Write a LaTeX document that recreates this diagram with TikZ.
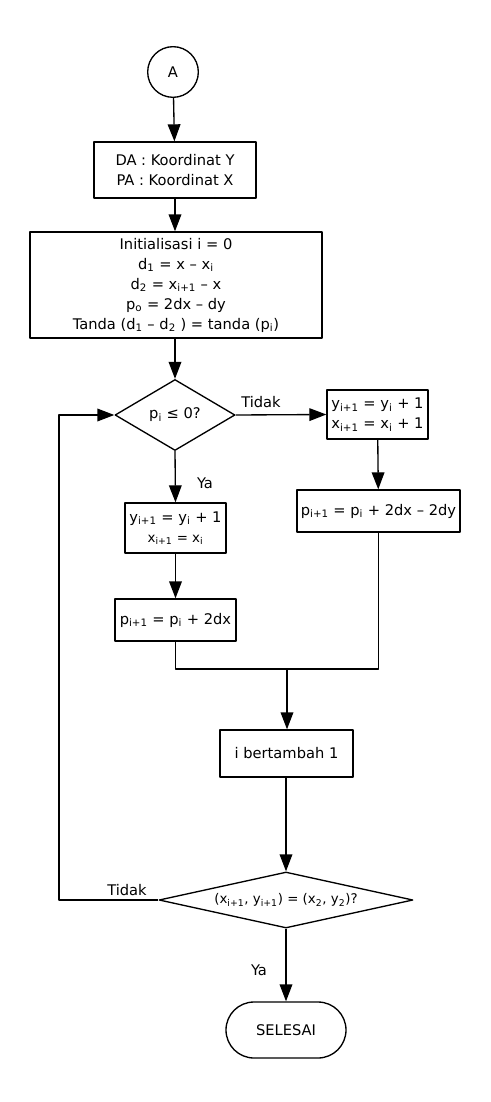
\documentclass[tikz,border=0pt]{standalone}
\usepackage{fontspec}
\setmainfont{DejaVu Sans}
\usetikzlibrary{arrows.meta,shapes.geometric}
\begin{document}
\begin{tikzpicture}[x=0.75pt,y=-0.75pt,line join=round,line width=1pt,
    font=\fontsize{11}{15}\selectfont,
    >={Triangle[length=12.75pt,width=9.5pt]},
    box/.style={draw,rectangle,align=center,inner sep=2pt},
    dec/.style={draw,diamond,shape aspect=#1,inner sep=0pt,align=center},
    lbl/.style={inner sep=0pt,anchor=base}]
    \def\ix#1{\textsubscript{#1}}
    \useasboundingbox (0,0) rectangle (491,1102);
    \node[draw,circle,minimum size=38pt,inner sep=0pt] (A) at (173,72) {A};
    \node[box,minimum width=121.5pt,minimum height=42pt] (DA) at (175,170) {DA : Koordinat Y\\PA : Koordinat X};
    \node[box,minimum width=219pt,minimum height=79.5pt] (init) at (176,285) {Initialisasi i = 0\\d\ix{1} = x – x\ix{i}\\d\ix{2} = x\ix{i+1} – x\\p\ix{o} = 2dx – dy\\Tanda (d\ix{1} – d\ix{2} ) = tanda (p\ix{i})};
    \node[dec=1.69,minimum width=90pt,minimum height=53.25pt] (D1) at (175,415) {p\ix{i} ≤ 0?};
    \node[box,minimum width=75.75pt,minimum height=36.75pt] (R1) at (377.5,414.5) {y\ix{i+1} = y\ix{i} + 1\\x\ix{i+1} = x\ix{i} + 1};
    \node[box,minimum width=122.25pt,minimum height=31.5pt] (R2) at (378.5,511) {p\ix{i+1} = p\ix{i} + 2dx – 2dy};
    \node[box,minimum width=75.75pt,minimum height=37.5pt] (L1) at (175.5,528) {y\ix{i+1} = y\ix{i} + 1\\{\fontsize{10}{15}\selectfont x\ix{i+1} = x\ix{i}}};
    \node[box,minimum width=90.75pt,minimum height=31.5pt] (L2) at (175.5,620) {p\ix{i+1} = p\ix{i} + 2dx};
    \node[box,minimum width=99.75pt,minimum height=35.25pt] (I) at (286.5,753.5) {i bertambah 1};
    \node[dec=4.54,minimum width=190.5pt,minimum height=42pt,font=\fontsize{10}{12}\selectfont] (D2) at (286,900) {(x\ix{i+1}, y\ix{i+1}) = (x\ix{2}, y\ix{2})?};
    \node[draw,rectangle,rounded corners=21pt,minimum width=90pt,minimum height=42pt] (end) at (286,1030) {SELESAI};
    \coordinate (mrg) at (287,669);
    \coordinate (lp) at (59,900);
    \draw[->] (A) -- (DA);
    \draw[->] (DA.south) -- (DA.south |- init.north);
    \draw[->] (init.south -| D1.north) -- (D1.north);
    \draw[->] (D1.east) -- (R1.west);
    \draw[->] (R1) -- (R2);
    \draw[->] (D1.south) -- (L1.north);
    \draw[->] (L1) -- (L2);
    \draw (L2.south) |- (mrg) -| (R2.south);
    \draw[->] (mrg) -- (mrg |- I.north);
    \draw[->] (I.south -| D2.north) -- (D2.north);
    \draw[->] (D2.west) -- (lp) |- (D1.west);
    \draw[->] (D2.south) -- (end.north);
    \node[lbl] (t1) at (261,407) {Tidak};
    \node[lbl] (y1) at (205,488) {Ya};
    \node[lbl] (t2) at (127,895) {Tidak};
    \node[lbl] (y2) at (259,975) {Ya};
\end{tikzpicture}
\end{document}
